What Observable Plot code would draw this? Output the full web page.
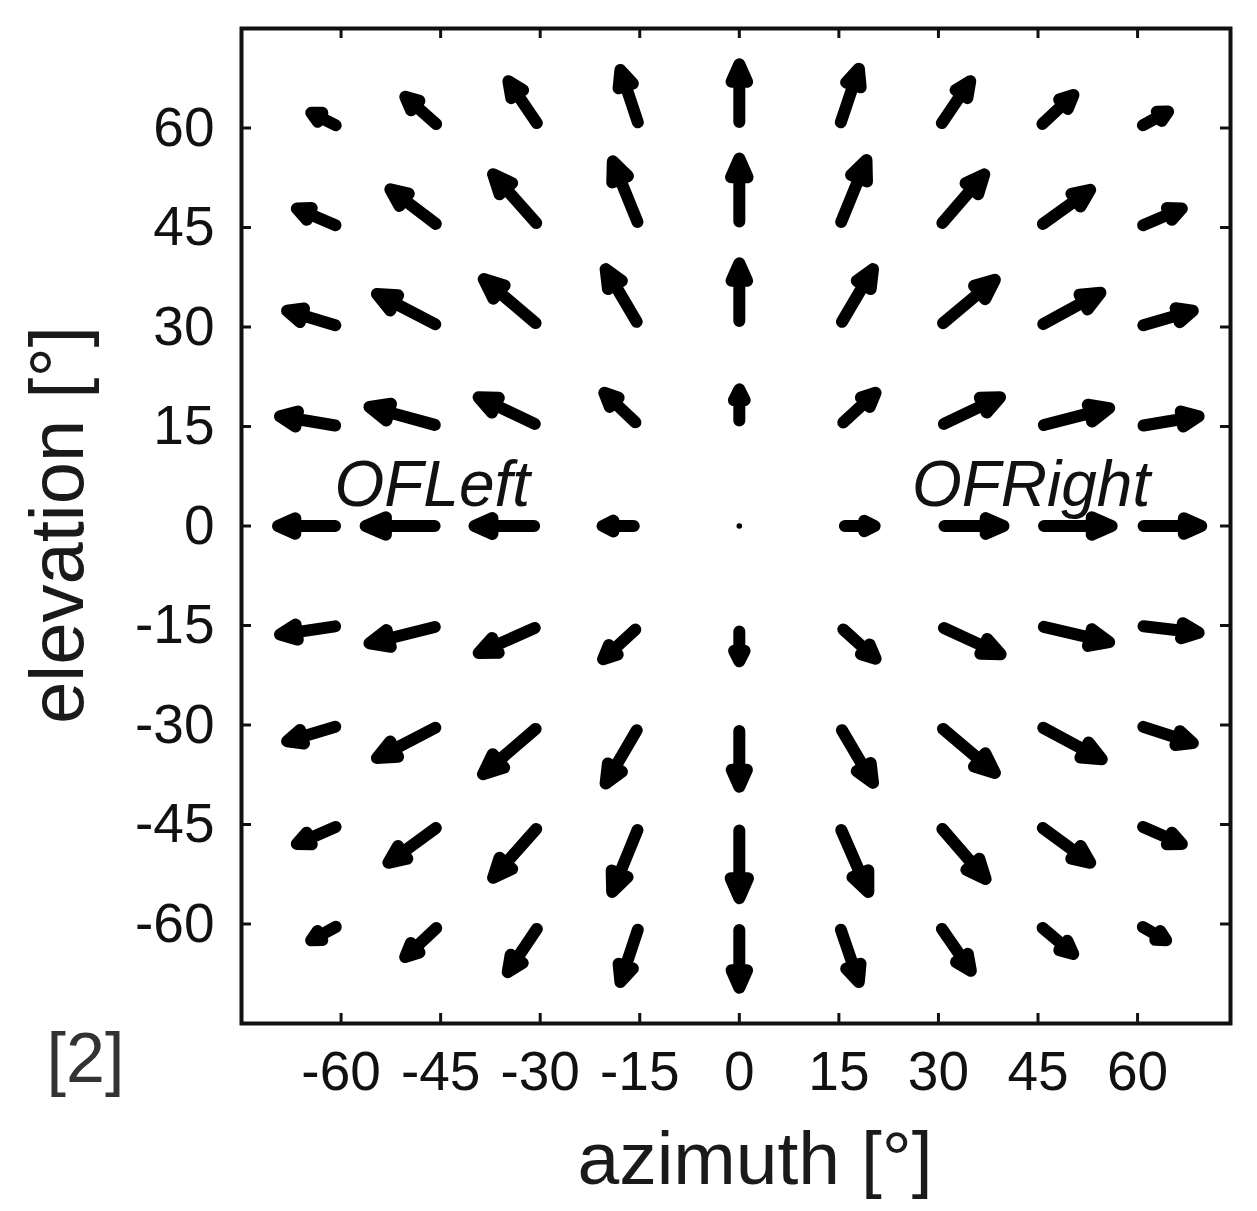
<!DOCTYPE html>
<html>
<head>
<meta charset="utf-8">
<script src="https://cdn.jsdelivr.net/npm/d3@7"></script>
<script src="https://cdn.jsdelivr.net/npm/@observablehq/plot@0.6"></script>
<style>
  html, body { margin: 0; padding: 0; background: #fff; }
  #chart { width: 1257px; height: 1211px; }
</style>
</head>
<body>
<div id="chart"></div>
<script>
// ---- data (degrees) ----
const azimuth = [-60, -45, -30, -15, 0, 15, 30, 45, 60];
const elevation = [60, 45, 30, 15, 0, -15, -30, -45, -60];

// horizontal flow component (rows: elevation 60 -> -60, cols: azimuth -60 -> 60)
const flowU = [
  [-5.3, -6.0, -5.3, -3.2, 0, 3.3, 5.3, 6.0, 5.4],
  [-7.5, -8.3, -7.7, -4.4, 0, 4.5, 7.5, 8.6, 7.5],
  [-9.0, -10.4, -9.2, -5.6, 0, 5.6, 9.2, 10.2, 9.2],
  [-10.1, -11.6, -10.1, -6.0, 0, 6.2, 10.1, 11.6, 10.1],
  [-10.4, -12.2, -10.8, -6.5, 0, 6.3, 10.7, 12.0, 10.5],
  [-10.1, -11.6, -10.1, -6.2, 0, 6.2, 10.2, 11.6, 10.1],
  [-9.0, -10.4, -9.3, -5.6, 0, 5.6, 9.2, 10.4, 9.2],
  [-7.5, -8.6, -7.7, -4.5, 0, 4.8, 7.7, 8.6, 7.5],
  [-5.3, -6.0, -5.4, -3.2, 0, 3.3, 5.4, 6.0, 5.1]
];
// vertical flow component
const flowV = [
  [2.7, 5.3, 7.8, 9.6, 10.5, 9.8, 7.8, 5.6, 2.9],
  [3.2, 6.3, 8.7, 10.8, 11.3, 11.0, 8.7, 6.2, 3.2],
  [2.7, 5.4, 7.8, 9.5, 10.5, 9.5, 7.7, 5.6, 2.7],
  [1.7, 3.2, 4.8, 5.7, 6.5, 5.7, 4.8, 3.0, 1.7],
  [0, 0, 0, 0, 0, 0, 0, 0, 0],
  [-1.5, -2.9, -4.5, -5.7, -6.3, -5.6, -4.7, -2.7, -1.2],
  [-2.7, -5.4, -8.0, -9.6, -10.2, -9.5, -7.8, -5.6, -3.0],
  [-3.3, -6.3, -8.7, -11.0, -12.0, -11.0, -8.9, -6.3, -3.3],
  [-2.9, -5.6, -8.0, -9.6, -10.5, -9.6, -7.8, -5.1, -2.9]
];

const xTicks = [-60, -45, -30, -15, 0, 15, 30, 45, 60];
const yTicks = [-60, -45, -30, -15, 0, 15, 30, 45, 60];
const xLabel = "azimuth [°]";
const yLabel = "elevation [°]";
const refLabel = "[2]";
const regionLabels = [
  {label: "OFLeft", az: -61, el: 3},
  {label: "OFRight", az: 26, el: 3}
];

// ---- layout ----
const W = 1257, H = 1211;
const mL = 241, mR = 27, mT = 28, mB = 188;
const xDomain = [-75, 74], yDomain = [-75, 75];
const plotW = W - mL - mR, plotH = H - mT - mB;
const pxPerDeg = plotW / (xDomain[1] - xDomain[0]);

const flow = [];
elevation.forEach((el, i) => {
  azimuth.forEach((az, j) => {
    const u = flowU[i][j], v = flowV[i][j];
    flow.push({az, el, mag: Math.hypot(u, v), angle: Math.atan2(u, v) * 180 / Math.PI});
  });
});

// filled-head arrow shape
const sw = 12, half = sw / 2;
const arrowShape = {
  draw(context, l) {
    if (l < 2 * half + 2) { context.moveTo(0, 0); return; }
    const hl = 0.25 * l, hw = 0.09 * l + 1.5;
    const tip = l - half;
    const base = tip - hl;
    context.moveTo(0, -half);
    context.lineTo(0, -base);
    context.moveTo(-hw, -base);
    context.lineTo(0, -tip);
    context.lineTo(hw, -base);
    context.closePath();
  }
};

const font = "'Liberation Sans', Arial, Helvetica, sans-serif";
const ink = "#111";

const chart = Plot.plot({
  width: W, height: H,
  marginLeft: mL, marginRight: mR, marginTop: mT, marginBottom: mB,
  x: {domain: xDomain},
  y: {domain: yDomain},
  length: {type: "linear", domain: [0, 1], range: [0, pxPerDeg]},
  style: {fontFamily: font, background: "#fff", color: ink},
  marks: [
    Plot.axisX(xTicks, {anchor: "bottom", tickSize: 0, tickPadding: 27, fontSize: 55, label: null, tickFormat: d => String(d), fill: ink}),
    Plot.axisY(yTicks, {anchor: "left", tickSize: 0, tickPadding: 27, fontSize: 55, label: null, tickFormat: d => String(d), fill: ink}),
    // inward tick marks on all four sides
    Plot.tickX(xTicks, {x: d => d, insetTop: plotH - 10, stroke: ink, strokeWidth: 3}),
    Plot.tickX(xTicks, {x: d => d, insetBottom: plotH - 10, stroke: ink, strokeWidth: 3}),
    Plot.tickY(yTicks, {y: d => d, insetRight: plotW - 10, stroke: ink, strokeWidth: 3}),
    Plot.tickY(yTicks, {y: d => d, insetLeft: plotW - 10, stroke: ink, strokeWidth: 3}),
    Plot.frame({stroke: ink, strokeWidth: 4}),
    Plot.vector(flow, {
      x: "az", y: "el", length: "mag", rotate: "angle", anchor: "start",
      shape: arrowShape, stroke: "#000", fill: "#000", strokeWidth: sw,
      strokeLinejoin: "round", strokeLinecap: "round"
    }),
    Plot.dot(flow.filter(d => d.mag === 0), {x: "az", y: "el", r: 2.8, fill: "#000", stroke: null}),
    Plot.text(regionLabels, {x: "az", y: "el", text: "label", textAnchor: "start", lineAnchor: "bottom",
      fontSize: 64, fontStyle: "italic", fill: ink}),
    Plot.text([xLabel], {text: d => d, frameAnchor: "bottom", dx: 19, dy: 160, textAnchor: "middle", lineAnchor: "bottom",
      fontSize: 75, fill: "#1a1a1a"}),
    Plot.text([yLabel], {text: d => d, frameAnchor: "left", dx: -159, dy: -1, rotate: -90, textAnchor: "middle", lineAnchor: "bottom",
      fontSize: 76, fill: "#1a1a1a"}),
    Plot.text([refLabel], {text: d => d, frameAnchor: "bottom-left", dx: -195, dy: 58, textAnchor: "start", lineAnchor: "bottom",
      fontSize: 70, fill: "#333"})
  ]
});
document.getElementById("chart").appendChild(chart);
</script>
</body>
</html>
